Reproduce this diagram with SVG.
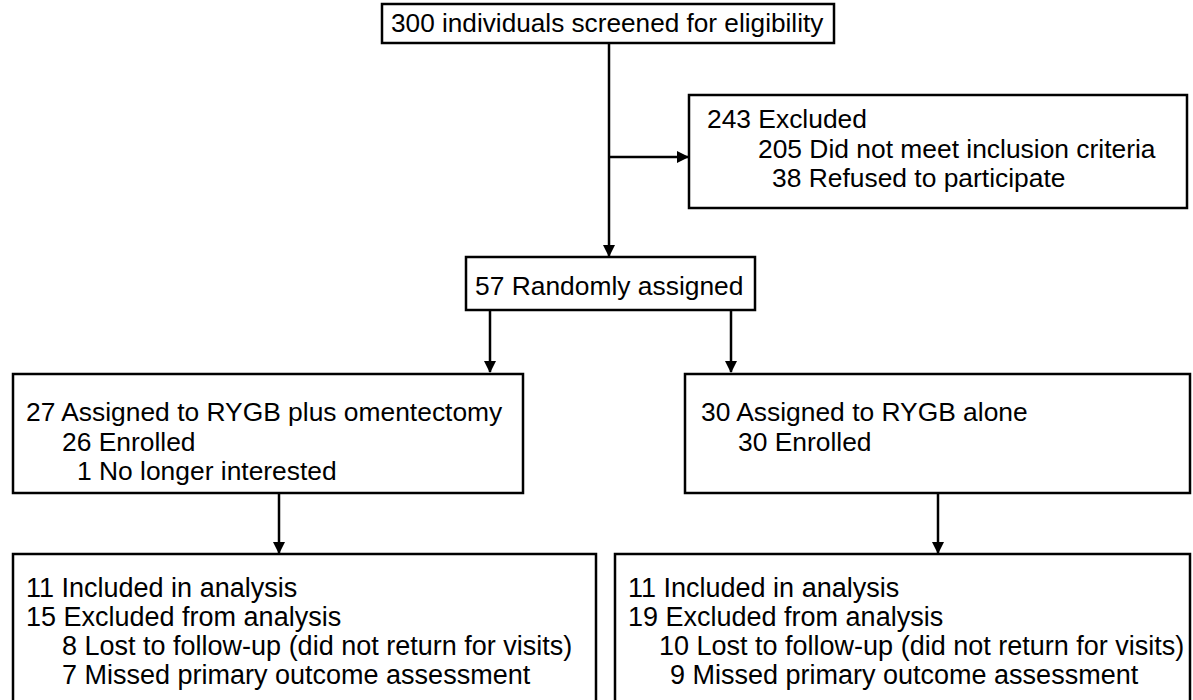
<svg xmlns="http://www.w3.org/2000/svg" width="1193" height="700" viewBox="0 0 1193 700">
<defs>
<style>
.box{fill:#fff;stroke:#000;stroke-width:2.5}
.t{font-family:"Liberation Sans",Arial,sans-serif;font-size:26.4px;fill:#000}
.b{font-size:27px}
.c{fill:none;stroke:#000;stroke-width:2.5}
</style>
<marker id="ah" markerWidth="12" markerHeight="12" refX="11" refY="6" orient="auto" markerUnits="userSpaceOnUse">
<path d="M0,0 L12,6 L0,12 Z" fill="#000"/>
</marker>
</defs>
<rect width="1193" height="700" fill="#fff"/>
<g id="connectors">
<line class="c" x1="609" y1="43" x2="609" y2="256" marker-end="url(#ah)"/>
<line class="c" x1="609" y1="157" x2="688" y2="157" marker-end="url(#ah)"/>
<line class="c" x1="490" y1="310" x2="490" y2="372" marker-end="url(#ah)"/>
<line class="c" x1="731" y1="310" x2="731" y2="372" marker-end="url(#ah)"/>
<line class="c" x1="279" y1="493" x2="279" y2="553" marker-end="url(#ah)"/>
<line class="c" x1="938" y1="493" x2="938" y2="553" marker-end="url(#ah)"/>
</g>
<g id="screened">
<rect class="box" x="382" y="4" width="452" height="39"/>
<text class="t" x="391" y="32" style="font-size:26.2px">300 individuals screened for eligibility</text>
</g>
<g id="excluded">
<rect class="box" x="689" y="95" width="498" height="113"/>
<text class="t" x="707" y="128">243 Excluded</text>
<text class="t" x="758" y="158">205 Did not meet inclusion criteria</text>
<text class="t" x="772" y="187">38 Refused to participate</text>
</g>
<g id="randomized">
<rect class="box" x="466" y="257" width="289" height="53"/>
<text class="t" x="475" y="295">57 Randomly assigned</text>
</g>
<g id="arm1">
<rect class="box" x="13" y="374" width="510" height="119"/>
<text class="t" x="26" y="421">27 Assigned to RYGB plus omentectomy</text>
<text class="t" x="62" y="451">26 Enrolled</text>
<text class="t" x="77" y="480">1 No longer interested</text>
</g>
<g id="arm2">
<rect class="box" x="685" y="374" width="505" height="119"/>
<text class="t" x="701" y="421">30 Assigned to RYGB alone</text>
<text class="t" x="738" y="451">30 Enrolled</text>
</g>
<g id="analysis1">
<rect class="box" x="13" y="554" width="583" height="160"/>
<text class="t b" x="26" y="597">11 Included in analysis</text>
<text class="t b" x="26" y="626">15 Excluded from analysis</text>
<text class="t b" x="62" y="655">8 Lost to follow-up (did not return for visits)</text>
<text class="t b" x="62" y="684">7 Missed primary outcome assessment</text>
</g>
<g id="analysis2">
<rect class="box" x="615" y="554" width="575" height="160"/>
<text class="t b" x="628" y="597">11 Included in analysis</text>
<text class="t b" x="628" y="626">19 Excluded from analysis</text>
<text class="t b" x="659" y="655">10 Lost to follow-up (did not return for visits)</text>
<text class="t b" x="670" y="684">9 Missed primary outcome assessment</text>
</g>
</svg>
